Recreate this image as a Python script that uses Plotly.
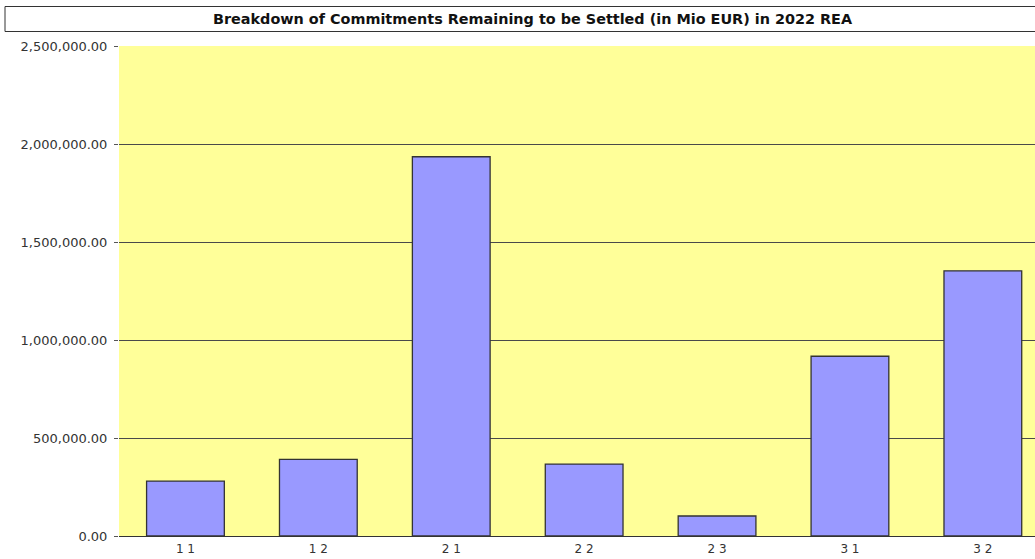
import plotly.graph_objects as go

categories = ["1 1", "1 2", "2 1", "2 2", "2 3", "3 1", "3 2"]
values = [280000, 391000, 1935000, 367000, 102000, 917000, 1353000]
title_text = "Breakdown of Commitments Remaining to be Settled (in Mio EUR) in 2022 REA"
y_ticks = [0, 500000, 1000000, 1500000, 2000000, 2500000]

W, H = 1035, 559
L, R, T, B = 119, 0, 46, 23
pw = W - L - R
ph = H - T - B
cat_px = 132.9

fig = go.Figure()
fig.add_trace(go.Bar(
    x=categories, y=values,
    marker=dict(color="#9999FF", line=dict(color="#333333", width=1.3)),
    hoverinfo="x+y",
))

def px_x(x):
    return (x - L) / pw

def px_y(y):
    return 1 + (T - y) / ph

fig.update_layout(
    width=W, height=H,
    margin=dict(l=L, r=R, t=T, b=B, pad=0),
    paper_bgcolor="white",
    plot_bgcolor="#FFFF99",
    showlegend=False,
    bargap=0.415,
    font=dict(family="DejaVu Sans", color="#333333"),
    xaxis=dict(
        type="category",
        range=[-0.5, pw / cat_px - 0.5],
        showgrid=False,
        showline=True, linecolor="#333333", linewidth=1,
        ticks="", tickfont=dict(size=12, color="#333333"),
        ticklabelstandoff=2,
        fixedrange=True,
    ),
    yaxis=dict(
        range=[0, 2500000],
        tickvals=y_ticks,
        tickformat=",.2f",
        showgrid=True, gridcolor="#4a4a4a", gridwidth=1,
        zeroline=False,
        showline=False,
        ticks="outside", ticklen=4, tickcolor="#555555",
        tickfont=dict(size=13, color="#333333"),
        ticklabelstandoff=4,
        fixedrange=True,
    ),
    shapes=[dict(
        type="rect", xref="paper", yref="paper",
        x0=px_x(5), x1=px_x(1080), y0=px_y(31.5), y1=px_y(6.5),
        line=dict(color="#333333", width=1), fillcolor="rgba(0,0,0,0)",
        layer="above",
    )],
    annotations=[dict(
        text="<b>" + title_text + "</b>",
        xref="paper", yref="paper",
        x=px_x(533), y=px_y(18.5),
        xanchor="center", yanchor="middle",
        showarrow=False,
        font=dict(family="DejaVu Sans", size=14.4, color="#111111"),
    )],
)

fig.write_html("out.html")
